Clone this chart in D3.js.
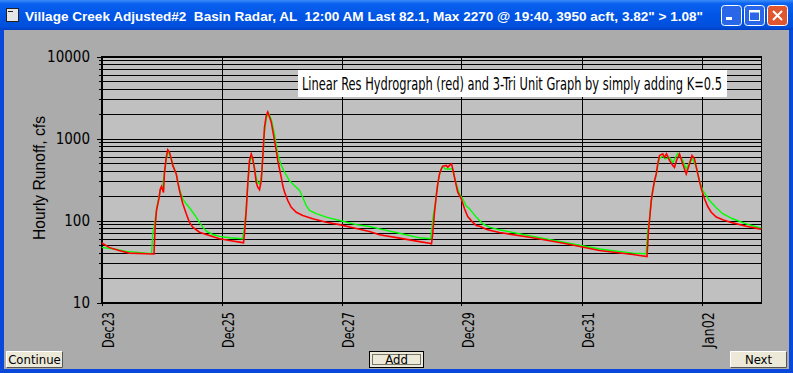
<!DOCTYPE html>
<html lang="en">
  <head>
    <meta charset="UTF-8" />
    <title>Village Creek Hydrograph</title>
    <style>
      html, body { margin: 0; padding: 0; background: #ababab; }
      svg { display: block; }
      text { white-space: pre; }
      .narrow { font-family: "Liberation Sans Narrow", "DejaVu Sans Condensed", "Liberation Sans", sans-serif; }
    </style>
  </head>
  <body>
    <svg width="793" height="373"></svg>

    <script src="https://d3js.org/d3.v7.min.js"></script>
    <script>
      // hours after Dec23 00:00, flow in cfs
      const redSeries = [
        [0, 53.5], [3, 47], [7, 43], [11, 40], [21, 39], [21.5, 87], [22, 133], [23, 186],
        [23.5, 240], [24, 260], [24.8, 220], [25.2, 390], [25.9, 590], [26.5, 730], [27.2, 680],
        [27.9, 565], [28.5, 470], [29.9, 370], [30.5, 293], [31.2, 232], [32.5, 161], [33.9, 121],
        [35.2, 95], [36.5, 83], [39.2, 72], [41.9, 67.5], [44.4, 64], [47.2, 60], [51.2, 57],
        [55.2, 54.5], [56.8, 53.5],
        [57.2, 69], [57.9, 133], [58.5, 280], [59.2, 540], [59.9, 650], [60.5, 565], [61.2, 425],
        [61.9, 290], [62.5, 255], [63.2, 237], [63.9, 305], [64.5, 590], [65.2, 1370], [65.9, 1900],
        [66.5, 2100], [67.2, 1830], [67.9, 1580], [68.5, 1250], [69.2, 945], [69.9, 710], [70.5, 540],
        [71.2, 425], [71.9, 335], [72.5, 267], [73.2, 222], [74.5, 176], [75.9, 145], [77.9, 126],
        [80.5, 115], [84.5, 105], [89.9, 95], [95.2, 89], [101.9, 80], [107.2, 73.5], [111.2, 67],
        [119.2, 61], [127.2, 55.3], [131.2, 52.9], [132, 52],
        [132.5, 69], [133.2, 126], [134, 210], [134.5, 280], [135.2, 370], [135.9, 425], [136.5, 460],
        [137.9, 470], [138.5, 445], [139.2, 470], [140, 490], [140.5, 425], [141.2, 335], [141.9, 267],
        [142.5, 222], [143.9, 184], [145.2, 139], [146.5, 112], [148.5, 95], [149.9, 87], [151.2, 85],
        [153.9, 78], [155.2, 76], [159.2, 71.5], [172.5, 61.5], [185.9, 52], [199.2, 43], [212.5, 38.5],
        [218.2, 36.4],
        [218.8, 75.6], [219.2, 100], [219.9, 175], [220.5, 232], [221.2, 305], [221.9, 370], [222.5, 490],
        [223.2, 620], [224.5, 650], [225.2, 590], [226, 650], [227.2, 540], [228.5, 470], [229.2, 445],
        [230, 540], [231.2, 650], [232.5, 490], [233.9, 370], [235.2, 490], [236.2, 620], [237.2, 565],
        [238.5, 370], [239.9, 245], [241.2, 184], [242.5, 148], [243.9, 126], [245.9, 110], [248.5, 102],
        [252.5, 93.5], [257.9, 85], [263.2, 79], [264, 78.5]
      ];

      const greenSeries = [
        [0, 47], [5, 45], [10, 42], [20, 39.5], [20.2, 47], [20.5, 69], [21.2, 90], [22, 135],
        [22.9, 190], [23.6, 240], [24.4, 250], [25.2, 380], [25.9, 560], [26.5, 650], [27, 680],
        [27.6, 600], [28.5, 480], [29.9, 370], [30.5, 300], [31.2, 240], [32.5, 184], [33.9, 160],
        [35.2, 143], [36.5, 126], [37.9, 110], [39.2, 95], [40.5, 83], [41.9, 74], [44.5, 67.5],
        [47.2, 64], [51.2, 61.5], [56.4, 60],
        [57, 75], [57.9, 140], [58.5, 270], [59.2, 500], [59.9, 590], [60.5, 560], [61.2, 440],
        [61.9, 330], [62.5, 290], [63.2, 280], [63.9, 330], [64.5, 560], [65.2, 1200], [65.9, 1750],
        [66.8, 2050], [67.9, 1720], [69.2, 1140], [70.5, 650], [71.9, 470], [73.2, 390], [75.2, 305],
        [77.9, 255], [79.2, 232], [80.5, 192], [81.9, 152], [83.2, 133], [85.9, 121], [89.9, 110],
        [95.2, 100], [101.9, 89], [107.2, 84.5], [111.2, 79], [119.2, 70], [127.2, 61.5], [131.6, 60],
        [132.2, 80], [132.5, 105], [133.2, 140], [134, 215], [134.5, 280], [135.2, 360], [135.9, 420],
        [136.4, 455], [137.6, 425], [139.2, 425], [140.4, 425], [141.9, 280], [143.2, 210], [144.5, 184],
        [145.9, 150], [147.2, 139], [149.9, 110], [152.5, 91], [155.2, 83], [159.2, 77], [172.5, 64],
        [185.9, 53.5], [199.2, 45], [212.5, 40], [217.9, 39.3],
        [218, 47], [218.5, 75], [219.2, 105], [219.9, 170], [220.5, 230], [221.2, 300], [221.9, 360],
        [222.5, 470], [223.2, 570], [224.5, 610], [225.6, 565], [227.2, 590], [228.5, 510], [230.5, 660],
        [232.5, 540], [233.9, 425], [235.2, 510], [236.4, 565], [237.9, 445], [239.2, 305], [240.5, 232],
        [241.9, 202], [243.2, 175], [245.9, 143], [248.5, 121], [252.5, 105], [257.9, 91], [263.2, 81.5],
        [264, 81]
      ];

      const yTickValues = [10, 100, 1000, 10000];
      const dayTicks = ["2008-12-23", "2008-12-25", "2008-12-27", "2008-12-29", "2008-12-31", "2009-01-02"];
      const buttonLabels = ["Continue", "Add", "Next"];

      const windowTitle = "Village Creek Adjusted#2  Basin Radar, AL  12:00 AM Last 82.1, Max 2270 @ 19:40, 3950 acft, 3.82\" > 1.08\"";
      const chartTitle = "Linear Res Hydrograph (red) and 3-Tri Unit Graph by simply adding K=0.5";
      const yTitle = "Hourly Runoff, cfs";

      const svg = d3.select("svg");
      const width = +svg.attr("width");
      const height = +svg.attr("height");

      const start = new Date(2008, 11, 23);
      const end = new Date(2009, 0, 3);
      const toDate = (h) => new Date(start.getTime() + h * 3600 * 1000);

      const x = d3.scaleTime().domain([start, end]).range([101.5, 761.5]);
      const y = d3.scaleLog().domain([10, 10000]).range([302.5, 56.5]);

      // window frame
      const defs = svg.append("defs");
      const grad = defs.append("linearGradient").attr("id", "titlebar")
        .attr("x1", 0).attr("y1", 0).attr("x2", 0).attr("y2", 1);
      grad.append("stop").attr("offset", "0%").attr("stop-color", "#3c8cf8");
      grad.append("stop").attr("offset", "12%").attr("stop-color", "#0a62f0");
      grad.append("stop").attr("offset", "50%").attr("stop-color", "#0055e6");
      grad.append("stop").attr("offset", "88%").attr("stop-color", "#0050dc");
      grad.append("stop").attr("offset", "100%").attr("stop-color", "#003fc4");

      svg.append("rect").attr("width", width).attr("height", height).attr("fill", "#0a48dc");
      svg.append("rect").attr("width", width).attr("height", 30).attr("fill", "url(#titlebar)");
      svg.append("rect").attr("x", 4).attr("y", 30).attr("width", width - 8).attr("height", height - 34)
        .attr("fill", "#ababab");

      // title bar icon
      svg.append("rect").attr("x", 6.5).attr("y", 8.5).attr("width", 12).attr("height", 13)
        .attr("fill", "#e6e6e6").attr("stroke", "#222");
      svg.append("line").attr("x1", 8).attr("x2", 13).attr("y1", 11.5).attr("y2", 11.5).attr("stroke", "#222");

      svg.append("text")
        .attr("x", 25).attr("y", 21)
        .attr("fill", "#fff")
        .attr("font-family", "Liberation Sans, Arial, sans-serif")
        .attr("font-weight", "bold")
        .attr("font-size", 13)
        .attr("textLength", 678)
        .attr("lengthAdjust", "spacingAndGlyphs")
        .text(windowTitle);

      // caption buttons
      const capBtns = [
        { x: 721, fill: "#2a66e8", kind: "min" },
        { x: 744, fill: "#2a66e8", kind: "max" },
        { x: 767, fill: "#e0562e", kind: "close" }
      ];
      capBtns.forEach((b) => {
        svg.append("rect").attr("x", b.x + 0.5).attr("y", 5.5).attr("width", 20).attr("height", 20)
          .attr("rx", 3).attr("fill", b.fill).attr("stroke", "#fff");
        if (b.kind === "min") {
          svg.append("rect").attr("x", b.x + 5).attr("y", 17).attr("width", 6).attr("height", 3).attr("fill", "#fff");
        } else if (b.kind === "max") {
          svg.append("rect").attr("x", b.x + 5.5).attr("y", 10.5).attr("width", 10).attr("height", 10)
            .attr("fill", "none").attr("stroke", "#fff").attr("stroke-width", 1);
          svg.append("rect").attr("x", b.x + 5).attr("y", 10).attr("width", 11).attr("height", 2.5).attr("fill", "#fff");
        } else {
          svg.append("path").attr("d", `M${b.x + 6},${11} L${b.x + 15},${20} M${b.x + 15},${11} L${b.x + 6},${20}`)
            .attr("stroke", "#fff").attr("stroke-width", 2);
        }
      });

      // plot area
      svg.append("rect")
        .attr("x", x.range()[0]).attr("y", y.range()[1])
        .attr("width", x.range()[1] - x.range()[0])
        .attr("height", y.range()[0] - y.range()[1])
        .attr("fill", "#c0c0c0");

      const gridValues = [];
      for (let d = 10; d < 10000; d *= 10) {
        for (let k = 1; k < 10; k++) gridValues.push(d * k);
      }
      gridValues.push(10000);

      svg.append("g").selectAll("line").data(gridValues).join("line")
        .attr("x1", (d) => (yTickValues.includes(d) ? 97 : 99))
        .attr("x2", x.range()[1])
        .attr("y1", (d) => Math.round(y(d)) + 0.5)
        .attr("y2", (d) => Math.round(y(d)) + 0.5)
        .attr("stroke", "#000")
        .attr("shape-rendering", "crispEdges");

      const dayDates = dayTicks.map((s) => d3.timeParse("%Y-%m-%d")(s));
      svg.append("g").selectAll("line").data(dayDates).join("line")
        .attr("x1", (d) => Math.round(x(d)) + 0.5)
        .attr("x2", (d) => Math.round(x(d)) + 0.5)
        .attr("y1", y.range()[1])
        .attr("y2", y.range()[0] + 3)
        .attr("stroke", "#000")
        .attr("shape-rendering", "crispEdges");

      // frame of plot
      svg.append("rect")
        .attr("x", x.range()[0]).attr("y", y.range()[1])
        .attr("width", x.range()[1] - x.range()[0])
        .attr("height", y.range()[0] - y.range()[1])
        .attr("fill", "none").attr("stroke", "#000")
        .attr("shape-rendering", "crispEdges");

      // y tick labels
      svg.append("g").selectAll("text").data(yTickValues).join("text")
        .attr("class", "narrow")
        .attr("x", 90)
        .attr("y", (d) => y(d) + 5)
        .attr("text-anchor", "end")
        .attr("font-size", 15)
        .text((d) => d);

      // x tick labels
      const fmt = d3.timeFormat("%b%d");
      svg.append("g").selectAll("text").data(dayDates).join("text")
        .attr("class", "narrow")
        .attr("transform", (d) => `translate(${x(d) + 12},312) rotate(-90)`)
        .attr("text-anchor", "end")
        .attr("font-size", 15)
        .attr("textLength", 36)
        .attr("lengthAdjust", "spacingAndGlyphs")
        .text((d) => fmt(d));

      // y title
      svg.append("text")
        .attr("transform", "translate(45,240) rotate(-90)")
        .attr("font-family", "Liberation Sans, Arial, sans-serif")
        .attr("font-size", 16)
        .attr("textLength", 124)
        .attr("lengthAdjust", "spacingAndGlyphs")
        .text(yTitle);

      // chart title box, text squeezed horizontally to fit the box
      svg.append("rect").attr("x", 298).attr("y", 70).attr("width", 429).attr("height", 27).attr("fill", "#fff");
      const titleG = svg.append("g");
      const titleText = titleG.append("text")
        .attr("font-family", "DejaVu Sans Condensed, Liberation Sans Narrow, sans-serif")
        .attr("font-size", 18)
        .text(chartTitle);
      const natural = titleText.node().getComputedTextLength();
      titleG.attr("transform", `translate(302,90) scale(${420 / natural},1)`);

      // lines
      defs.append("clipPath").attr("id", "plotclip").append("rect")
        .attr("x", x.range()[0]).attr("y", y.range()[1])
        .attr("width", x.range()[1] - x.range()[0])
        .attr("height", y.range()[0] - y.range()[1]);

      const line = d3.line()
        .x((d) => x(toDate(d[0])))
        .y((d) => y(d[1]));

      const lines = svg.append("g").attr("clip-path", "url(#plotclip)");
      lines.append("path").datum(greenSeries)
        .attr("d", line).attr("fill", "none").attr("stroke", "#00ff00").attr("stroke-width", 1.4);
      lines.append("path").datum(redSeries)
        .attr("d", line).attr("fill", "none").attr("stroke", "#ff0000").attr("stroke-width", 1.6);

      // buttons
      const btnPos = [
        { x: 6, y: 351, w: 57, h: 17 },
        { x: 369, y: 351, w: 55, h: 17 },
        { x: 730, y: 351, w: 57, h: 17 }
      ];
      buttonLabels.forEach((label, i) => {
        const b = btnPos[i];
        const g = svg.append("g").attr("transform", `translate(${b.x},${b.y})`);
        g.append("rect").attr("width", b.w).attr("height", b.h).attr("fill", "#ece9d8");
        g.append("path").attr("d", `M0.5,${b.h - 0.5} V0.5 H${b.w - 0.5}`).attr("fill", "none").attr("stroke", "#fff");
        g.append("path").attr("d", `M0.5,${b.h - 0.5} H${b.w - 0.5} V0.5`).attr("fill", "none").attr("stroke", "#555");
        if (label === "Add") {
          g.append("rect").attr("x", 0.5).attr("y", 0.5).attr("width", b.w - 1).attr("height", b.h - 1)
            .attr("fill", "none").attr("stroke", "#000");
          g.append("rect").attr("x", 3.5).attr("y", 3.5).attr("width", b.w - 7).attr("height", b.h - 7)
            .attr("fill", "none").attr("stroke", "#000").attr("stroke-dasharray", "1,1");
        }
        g.append("text")
          .attr("class", "narrow")
          .attr("x", b.w / 2).attr("y", b.h / 2 + 4.5)
          .attr("text-anchor", "middle")
          .attr("font-size", 13)
          .text(label);
      });
    </script>
  </body>
</html>
